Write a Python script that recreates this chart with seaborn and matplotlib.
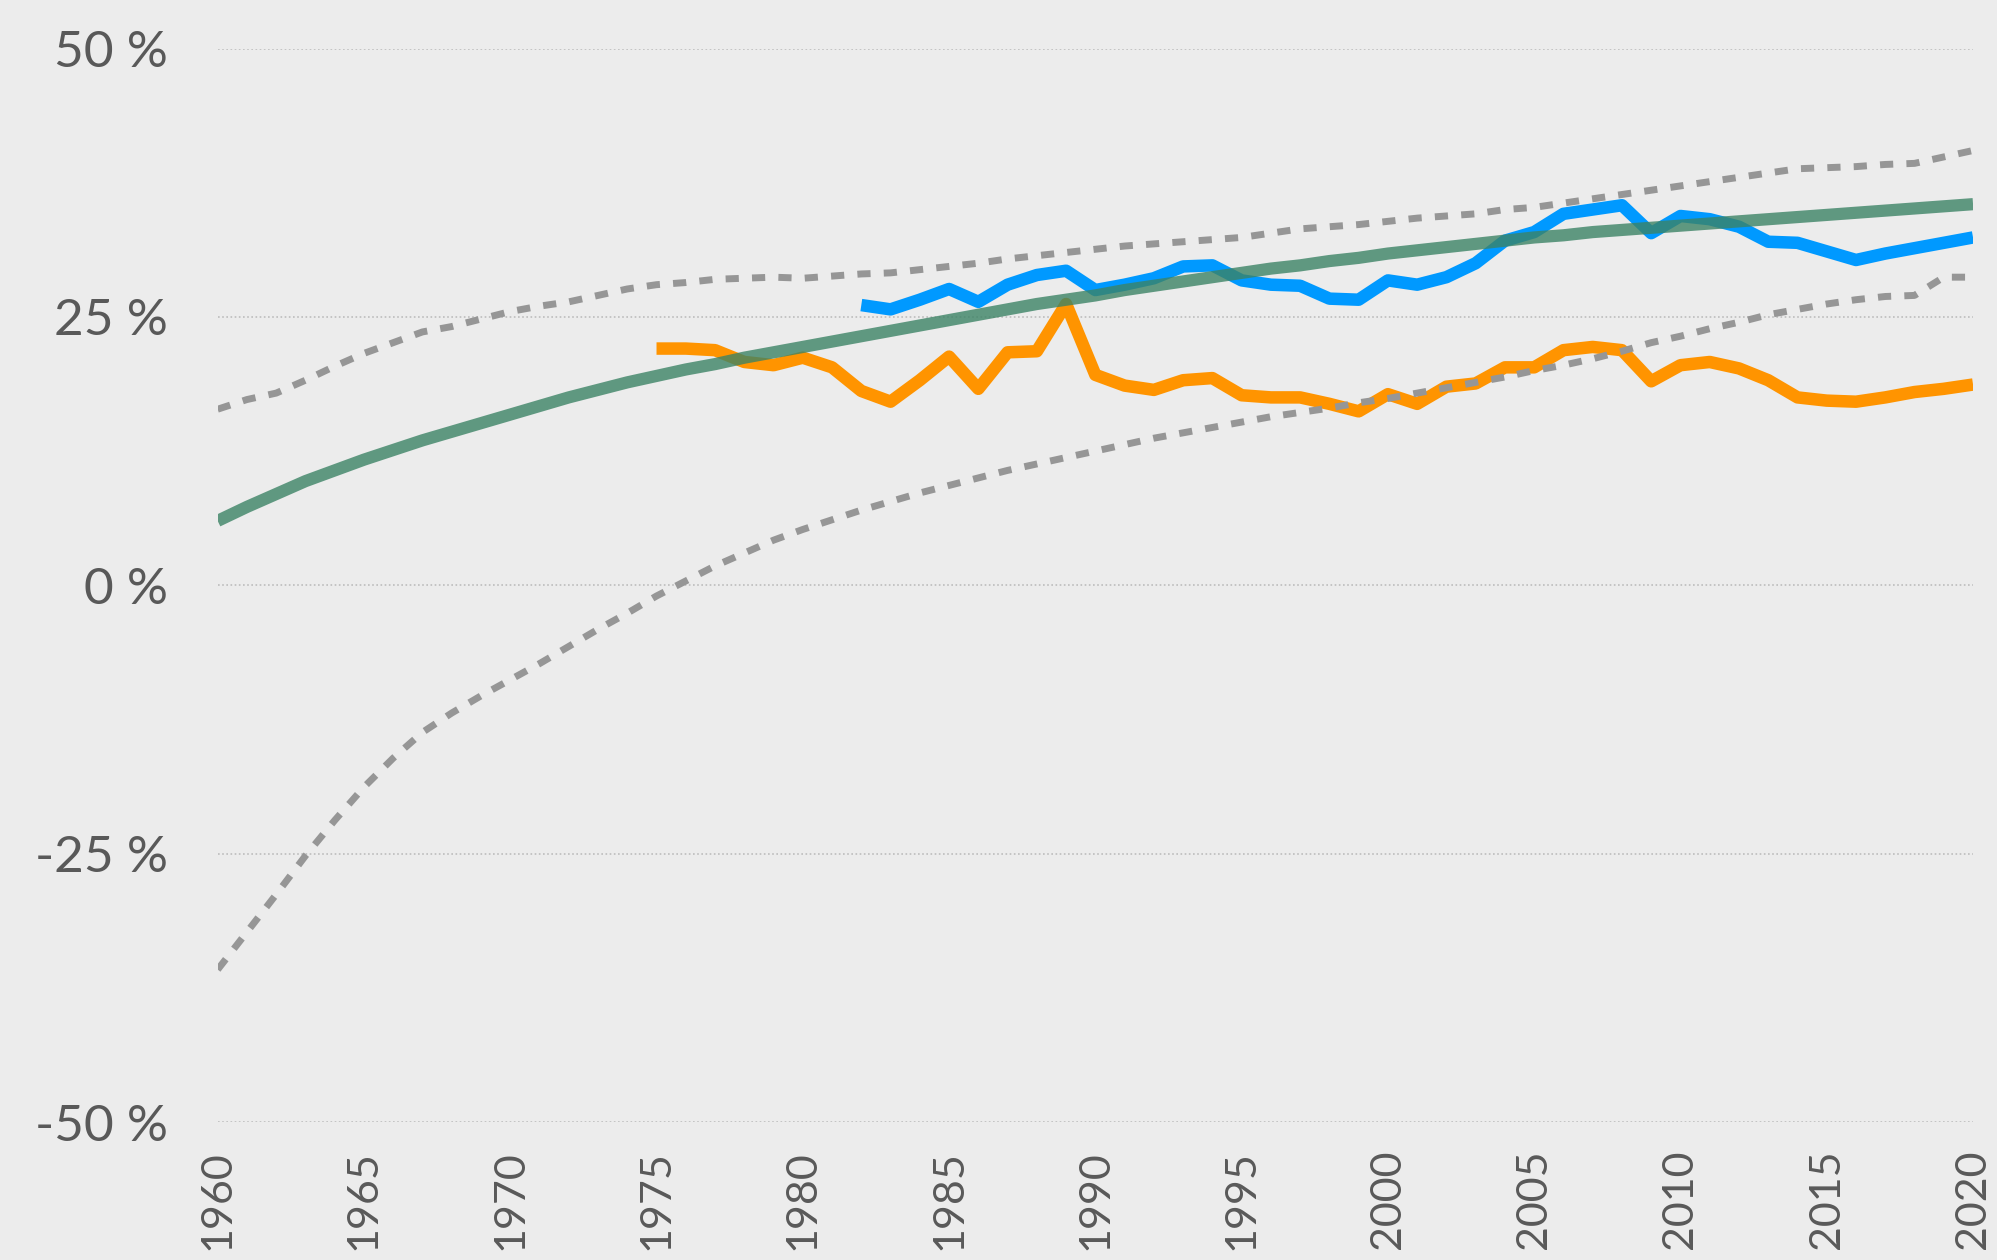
import numpy as np
import pandas as pd
import matplotlib
matplotlib.use("Agg")
import matplotlib.pyplot as plt
from matplotlib.ticker import FuncFormatter
import seaborn as sns

# Datos
years = list(range(1960, 2021))

green = [6.0, 7.3, 8.5, 9.7, 10.7, 11.7, 12.6, 13.5, 14.3, 15.1,
         15.9, 16.7, 17.5, 18.2, 18.9, 19.5, 20.1, 20.6, 21.2, 21.7,
         22.2, 22.7, 23.2, 23.7, 24.2, 24.7, 25.2, 25.7, 26.2, 26.6,
         27.0, 27.5, 27.9, 28.3, 28.7, 29.1, 29.5, 29.8, 30.2, 30.5,
         30.9, 31.2, 31.5, 31.8, 32.1, 32.4, 32.6, 32.9, 33.1, 33.3,
         33.5, 33.7, 33.9, 34.1, 34.3, 34.5, 34.7, 34.9, 35.1, 35.3,
         35.5]

upper = [16.4, 17.3, 17.9, 19.1, 20.4, 21.6, 22.6, 23.6, 24.1, 24.8,
         25.5, 26.0, 26.4, 27.0, 27.6, 28.0, 28.2, 28.5, 28.6, 28.7,
         28.6, 28.8, 29.0, 29.1, 29.4, 29.7, 30.0, 30.4, 30.7, 31.0,
         31.3, 31.6, 31.8, 32.0, 32.2, 32.4, 32.8, 33.2, 33.4, 33.6,
         33.9, 34.2, 34.4, 34.6, 35.0, 35.2, 35.6, 36.0, 36.4, 36.8,
         37.2, 37.6, 38.0, 38.4, 38.8, 38.9, 39.0, 39.2, 39.3, 39.9,
         40.5]

lower = [-35.8, -32.3, -28.8, -25.2, -21.9, -18.8, -16.1, -13.7, -11.9, -10.3,
         -8.8, -7.3, -5.7, -4.1, -2.6, -1.0, 0.4, 1.8, 3.0, 4.2,
         5.2, 6.1, 7.0, 7.8, 8.6, 9.3, 10.0, 10.7, 11.3, 11.9,
         12.5, 13.1, 13.7, 14.2, 14.7, 15.2, 15.7, 16.1, 16.5, 17.0,
         17.4, 17.9, 18.4, 18.9, 19.4, 20.0, 20.5, 21.1, 21.8, 22.6,
         23.2, 23.9, 24.5, 25.2, 25.7, 26.2, 26.6, 26.9, 27.0, 28.7,
         28.7]

orange_years = list(range(1975, 2021))
orange = [22.05, 22.05, 21.9, 20.8, 20.5, 21.2, 20.3, 18.1, 17.1, 19.1,
          21.3, 18.3, 21.7, 21.8, 26.2, 19.6, 18.6, 18.2, 19.1, 19.3,
          17.7, 17.5, 17.5, 16.9, 16.2, 17.8, 16.9, 18.5, 18.8, 20.3,
          20.3, 21.9, 22.2, 21.9, 19.0, 20.5, 20.8, 20.2, 19.1, 17.5,
          17.2, 17.1, 17.5, 18.0, 18.3, 18.7]

blue_years = list(range(1982, 2021))
blue = [26.1, 25.7, 26.6, 27.6, 26.4, 28.0, 28.9, 29.3, 27.5, 28.0,
        28.6, 29.7, 29.8, 28.4, 28.0, 27.9, 26.7, 26.6, 28.4, 28.0,
        28.7, 30.0, 32.1, 32.9, 34.6, 35.0, 35.4, 32.8, 34.4, 34.1,
        33.4, 32.0, 31.9, 31.1, 30.3, 30.9, 31.4, 31.9, 32.4]

y_ticks = [-50, -25, 0, 25, 50]
x_ticks = list(range(1960, 2021, 5))

BG = "#ececec"
TXT = "#595959"

sns.set_theme(style="white")
plt.rcParams["font.family"] = ["Lato", "DejaVu Sans"]

fig = plt.figure(figsize=(19.97, 12.6), dpi=100, facecolor=BG)
ax = fig.add_axes([0.109, 0.1095, 0.879, 0.852])
ax.set_facecolor(BG)

# líneas de referencia punteadas
for v in y_ticks:
    ax.axhline(v, color="#bdbdbd", lw=1.2, ls=(0, (1, 1.5)), zorder=0)

common = dict(ax=ax, legend=False, solid_capstyle="butt")
sns.lineplot(x=orange_years, y=orange, color="#ff9400", lw=9, zorder=2, **common)
sns.lineplot(x=blue_years, y=blue, color="#0099ff", lw=9, zorder=3, **common)
sns.lineplot(x=years, y=green, color="#3c8365", alpha=0.8, lw=8.8, zorder=4, **common)
sns.lineplot(x=years, y=upper, color="#969696", lw=5, zorder=5,
             ax=ax, legend=False)
sns.lineplot(x=years, y=lower, color="#969696", lw=5, zorder=5,
             ax=ax, legend=False)
for ln in ax.lines[-2:]:
    ln.set_dashes((1.9, 1.9))
    ln.set_dash_capstyle("butt")

ax.set_xlim(1960, 2020)
ax.set_ylim(-50, 50)
ax.set_xticks(x_ticks)
ax.set_xticklabels([str(x) for x in x_ticks], rotation=90, fontsize=31,
                   color=TXT, va="top")
ax.set_yticks(y_ticks)
ax.yaxis.set_major_formatter(FuncFormatter(lambda v, p: f"{int(v)} %"))
for lab in ax.get_yticklabels():
    lab.set_fontsize(37)
    lab.set_color(TXT)
ax.tick_params(axis="x", length=0, pad=20)
ax.tick_params(axis="y", length=0, pad=36)
ax.set_xlabel("")
ax.set_ylabel("")
for s in ax.spines.values():
    s.set_visible(False)

fig.savefig("out.png", dpi=100, facecolor=BG)
